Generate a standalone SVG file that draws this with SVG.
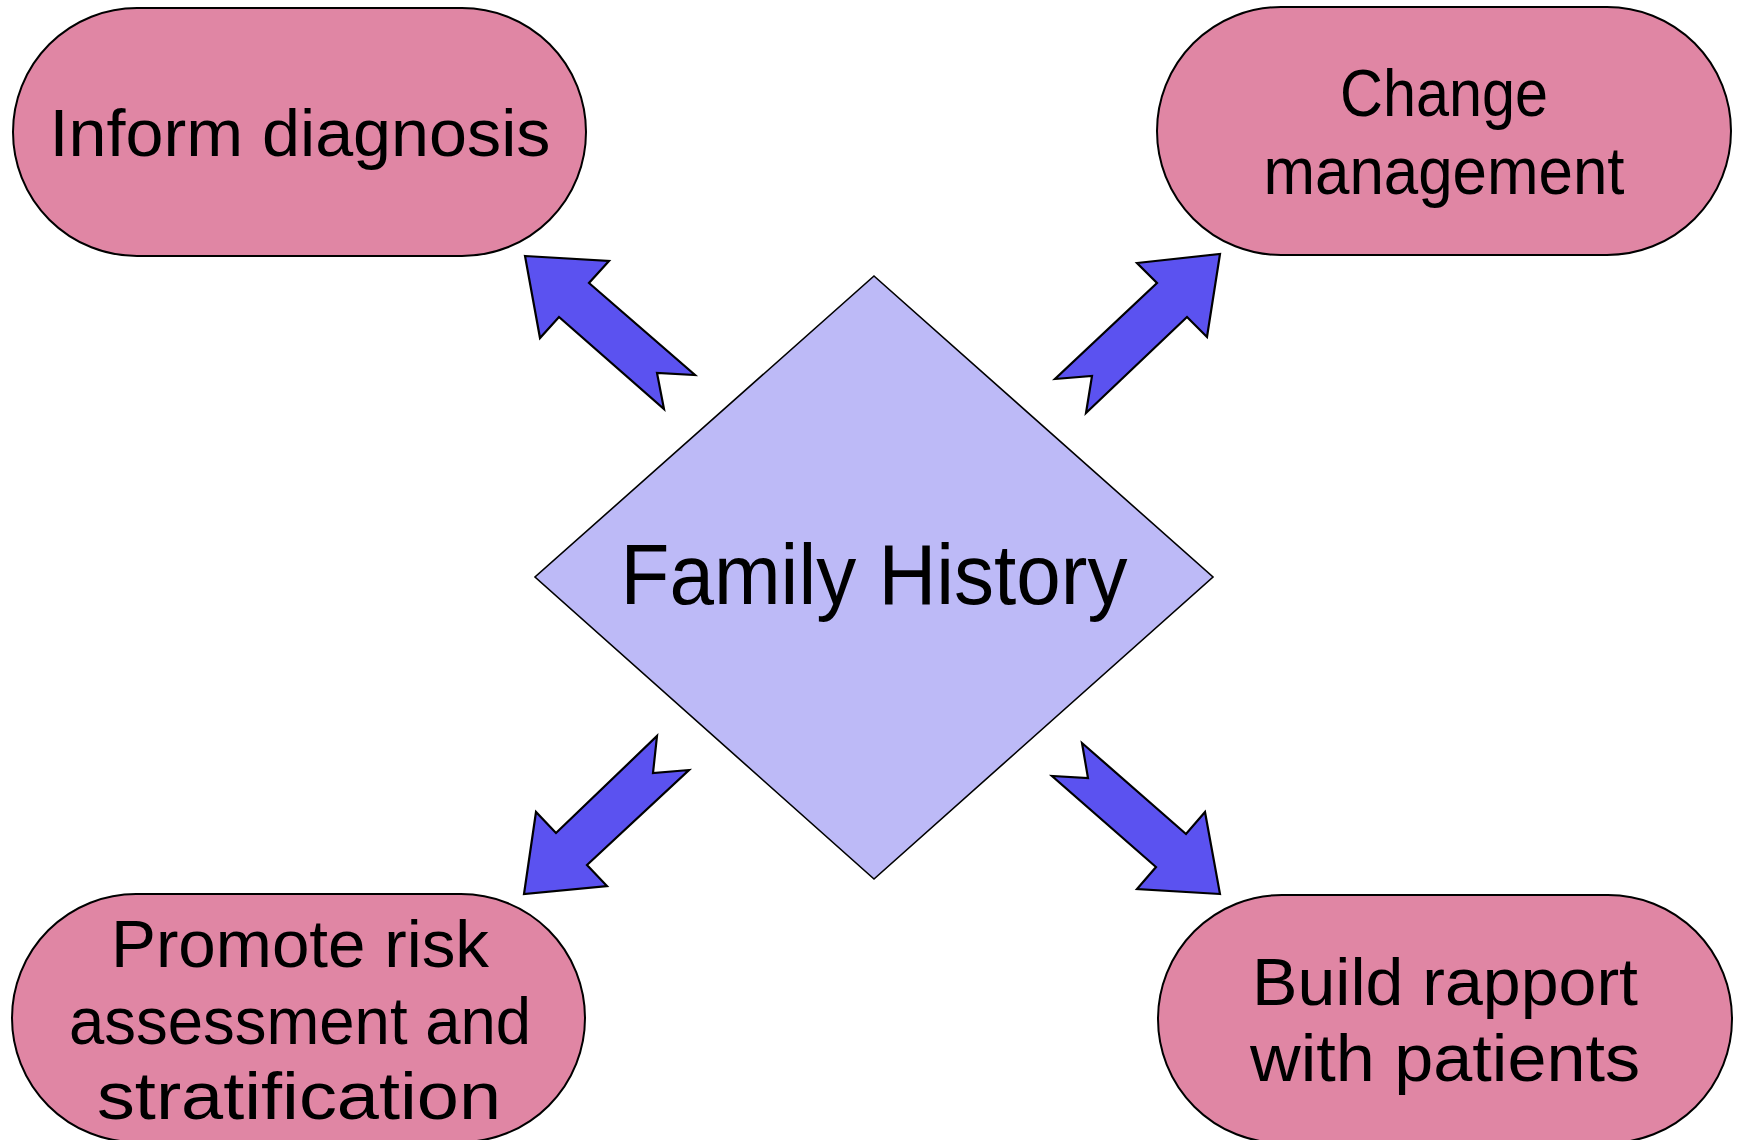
<svg xmlns="http://www.w3.org/2000/svg" width="1737" height="1140" viewBox="0 0 1737 1140">
<style>
.pill{fill:#e086a4;stroke:#000;stroke-width:2}
.dia{fill:#bdbaf7;stroke:#000;stroke-width:1.6}
.arr{fill:#5b52f0;stroke:#000;stroke-width:2.2;stroke-linejoin:miter}
.t{font-family:"Liberation Sans",Arial,sans-serif;font-size:66px;fill:#000;text-anchor:middle}
.big{font-size:85px}
</style>
<rect width="1737" height="1140" fill="#fff"/>
<g id="connectors">
<polygon class="arr" points="525,256 609,261 589,283 695,375 657,373 664,409 559,317 540,338"/>
<polygon class="arr" points="1220,254 1207,337 1187,317 1086,413 1092,376 1055,379 1157,283 1137,263"/>
<polygon class="arr" points="524,894 536,812 556,833 657,736 653,773 689,770 587,865 607,886"/>
<polygon class="arr" points="1220,894 1137,889 1156,867 1052,776 1088,778 1082,743 1186,834 1205,812"/>
</g>
<g id="family-history">
<polygon class="dia" points="874,276 1213,577 874,879 535,577"/>
<text class="t big" x="874" y="604" textLength="507" lengthAdjust="spacingAndGlyphs">Family History</text>
</g>
<g id="inform-diagnosis">
<rect class="pill" x="13" y="8" width="573" height="248" rx="124" ry="124"/>
<text class="t" x="300" y="156" textLength="501" lengthAdjust="spacingAndGlyphs">Inform diagnosis</text>
</g>
<g id="change-management">
<rect class="pill" x="1157" y="7" width="574" height="248" rx="124" ry="124"/>
<text class="t" x="1444" y="116" textLength="208" lengthAdjust="spacingAndGlyphs">Change</text>
<text class="t" x="1444" y="194" textLength="361" lengthAdjust="spacingAndGlyphs">management</text>
</g>
<g id="promote-risk">
<rect class="pill" x="12" y="894" width="573" height="248" rx="124" ry="124"/>
<text class="t" x="300" y="967" textLength="378" lengthAdjust="spacingAndGlyphs">Promote risk</text>
<text class="t" x="300" y="1044" textLength="462" lengthAdjust="spacingAndGlyphs">assessment and</text>
<text class="t" x="299" y="1119" textLength="404" lengthAdjust="spacingAndGlyphs">stratification</text>
</g>
<g id="build-rapport">
<rect class="pill" x="1158" y="895" width="574" height="248" rx="124" ry="124"/>
<text class="t" x="1445" y="1005" textLength="386" lengthAdjust="spacingAndGlyphs">Build rapport</text>
<text class="t" x="1445" y="1081" textLength="390" lengthAdjust="spacingAndGlyphs">with patients</text>
</g>
</svg>
